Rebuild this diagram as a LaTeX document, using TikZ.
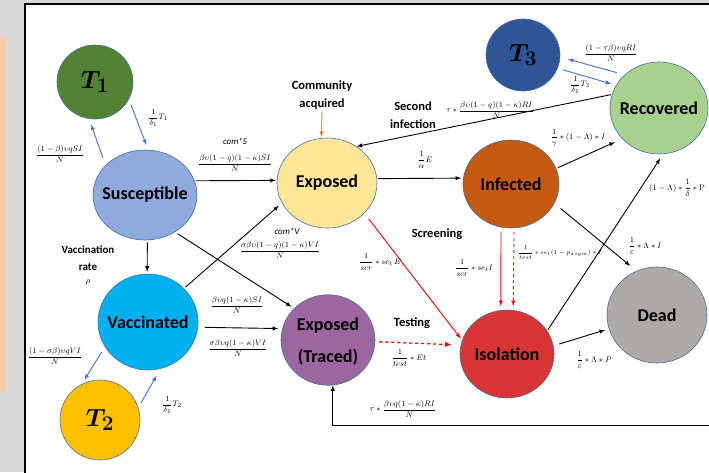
\documentclass[tikz,border=0pt]{standalone}
\usepackage{amsmath}
\usepackage[no-math]{fontspec}
\setmainfont{Carlito}
\usetikzlibrary{arrows,shapes.geometric}

\definecolor{bggray}{RGB}{217,217,217}
\definecolor{peach}{RGB}{248,203,173}
\definecolor{compline}{RGB}{65,113,156}
\definecolor{arrowblue}{RGB}{68,114,196}
\definecolor{orangeline}{RGB}{237,125,49}
\definecolor{tgreen}{RGB}{84,130,53}
\definecolor{susblue}{RGB}{143,170,220}
\definecolor{vacblue}{RGB}{0,176,240}
\definecolor{tyellow}{RGB}{255,192,0}
\definecolor{expyellow}{RGB}{255,230,153}
\definecolor{tracpurple}{RGB}{158,102,160}
\definecolor{infbrown}{RGB}{197,90,17}
\definecolor{isored}{RGB}{218,52,52}
\definecolor{tnavy}{RGB}{47,85,151}
\definecolor{recgreen}{RGB}{169,209,142}
\definecolor{deadgray}{RGB}{174,170,170}

\newcommand{\nolen}[1]{\makebox[0pt]{#1}}

\begin{document}
\begin{tikzpicture}[x=1pt,y=-1pt,
  comp/.style={ellipse,draw=compline,line width=0.6pt,inner sep=0pt,font=\bfseries\fontsize{18}{21}\selectfont},
  tnode/.style={comp,font=\fontsize{24.88}{28}\selectfont},
  lab/.style={inner sep=0pt,font=\fontsize{8}{9}\selectfont},
  note/.style={inner sep=0pt,align=center,font=\bfseries\fontsize{12.5}{18}\selectfont},
  flow/.style={-latex,line width=0.9pt},
  bflow/.style={flow,draw=arrowblue},
  rflow/.style={flow,draw=red}]
\useasboundingbox (0,0) rectangle (709,472);
\begin{scope}
\clip (0,0) rectangle (709,472);
\fill[bggray] (0,0) rectangle (709,472);
\fill[white] (25,4) rectangle (709,472);
\fill[peach] (0,37) rectangle (6,392);
\draw[line width=1.2pt] (25,480) -- (25,4) -- (720,4);
\end{scope}

\node[tnode,fill=tgreen,minimum width=76,minimum height=74] (T1) at (95,82) {\nolen{$\boldsymbol{T_1}$}};
\node[comp,fill=susblue,minimum width=104,minimum height=90] (S) at (145,195) {\nolen{Susceptible}};
\node[comp,fill=vacblue,minimum width=100,minimum height=96] (V) at (148,322) {\nolen{Vaccinated}};
\node[tnode,fill=tyellow,minimum width=80,minimum height=80] (T2) at (100,420) {\nolen{$\boldsymbol{T_2}$}};
\node[comp,fill=expyellow,minimum width=100,minimum height=90] (E) at (327,183) {\nolen{Exposed}};
\node[comp,fill=tracpurple,minimum width=94,minimum height=88,font=\bfseries\fontsize{18}{32}\selectfont] (ET) at (328,340) {\nolen{\begin{tabular}{@{}c@{}}Exposed\\(Traced)\end{tabular}}};
\node[comp,fill=infbrown,minimum width=96,minimum height=88] (I) at (511,184) {\nolen{Infected}};
\node[comp,fill=isored,minimum width=94,minimum height=88] (Iso) at (507,354) {\nolen{Isolation}};
\node[tnode,fill=tnavy,minimum width=74,minimum height=72] (T3) at (523,55) {\nolen{$\boldsymbol{T_3}$}};
\node[comp,fill=recgreen,minimum width=98,minimum height=92] (R) at (659,108) {\nolen{Recovered}};
\node[comp,fill=deadgray,minimum width=100,minimum height=96] (D) at (657,315) {\nolen{Dead}};

\node[note] (ca) at (322,95) {Community\\acquired};
\node[note] (si) at (413,115) {Second\\infection};
\node[note,font=\bfseries\fontsize{11}{17}\selectfont] (vr) at (88,258) {Vaccination\\rate};
\node[lab,font=\fontsize{9}{10}\selectfont] (rho) at (88,282) {$\rho$};
\node[note] (scr) at (437,234) {Screening};
\node[note] (tst) at (412,323) {Testing};

\draw[bflow,shorten <=6,shorten >=5] (T1.-27) -- (S.86);
\draw[bflow,shorten <=8,shorten >=6] (S.143) -- (T1.-99);
\draw[flow,shorten <=1,shorten >=1] (S.16) -- (E.177);
\draw[flow,shorten <=2,shorten >=2] (S.-87) -- (V.91);
\draw[flow,shorten <=3,shorten >=3] (S.-51) -- (ET.137);
\draw[flow,shorten <=2,shorten >=4] (V.43) -- (E.204);
\draw[flow,shorten <=7,shorten >=4] (V.-6) -- (ET.166);
\draw[bflow,shorten <=6,shorten >=5] (V.-150) -- (T2.117);
\draw[bflow,shorten <=5,shorten >=8] (T2.18) -- (V.-75);
\draw[flow,draw=orangeline,shorten <=2,shorten >=1] (ca.south) -- (E.97);
\draw[flow,shorten <=1] (R.164) -- (E.51);
\draw[flow,shorten <=1,shorten >=2] (E.5) -- (I.173);
\draw[rflow,shorten <=7,shorten >=2] (E.-39) -- (Iso.163);
\draw[rflow,shorten <=4,shorten >=4] (I.-103) -- (Iso.98);
\draw[rflow,dashed,shorten <=4,shorten >=4] (I.-86) -- (Iso.82);
\draw[flow,shorten <=2,shorten >=8] (I.19) -- (R.220);
\draw[flow,shorten <=8,shorten >=8] (I.-24) -- (D.115);
\draw[flow,shorten <=1,shorten >=5] (Iso.30) -- (R.-85);
\draw[flow,shorten <=6,shorten >=4] (Iso.10) -- (D.196);
\draw[rflow,dashed,line width=1.3pt,shorten <=4,shorten >=9] (ET.-2) -- (Iso.169);
\coordinate (rin) at (709,425);
\draw[flow] (rin) -| (ET.-84);
\draw[bflow,shorten <=8,shorten >=8] (R.136) -- (T3.-3);
\draw[bflow,shorten <=5,shorten >=5] (T3.-21) -- (R.152);

\node[lab] (l1) at (158,118) {$\dfrac{1}{\delta_1}T_1$};
\node[lab] (l2) at (60,154) {$\dfrac{(1-\beta)\upsilon qSI}{N}$};
\node[lab,font=\itshape\fontsize{9}{10}\selectfont] (l3) at (235,141) {com*S};
\node[lab] (l4) at (235,163) {$\dfrac{\beta\upsilon(1-q)(1-\kappa)SI}{N}$};
\node[lab,font=\itshape\fontsize{9}{10}\selectfont] (l5) at (287,231) {com*V};
\node[lab] (l6) at (280,250) {$\dfrac{\sigma\beta\upsilon(1-q)(1-\kappa)VI}{N}$};
\node[lab] (l7) at (237,305) {$\dfrac{\beta\upsilon q(1-\kappa)SI}{N}$};
\node[lab] (l8) at (238,348) {$\dfrac{\sigma\beta\upsilon q(1-\kappa)VI}{N}$};
\node[lab] (l9) at (55,356) {$\dfrac{(1-\sigma\beta)\upsilon qVI}{N}$};
\node[lab] (l10) at (172,405) {$\dfrac{1}{\delta_1}T_2$};
\node[lab] (l11) at (490,110) {$\tau*\dfrac{\beta\upsilon(1-q)(1-\kappa)RI}{N}$};
\node[lab] (l12) at (425,160) {$\dfrac{1}{\alpha}E$};
\node[lab] (l13) at (380,262) {$\dfrac{1}{scr}*se_t\,E$};
\node[lab] (l14) at (474,268) {$\dfrac{1}{scr}*se_tI$};
\node[lab,font=\fontsize{6}{7}\selectfont] (l15) at (560,253) {$\dfrac{1}{test}*se_t(1-p_{asym})*I$};
\node[lab] (l16) at (578,138) {$\dfrac{1}{\gamma}*(1-\Lambda)*I$};
\node[lab,anchor=west] (l17) at (649,188) {$(1-\Lambda)*\dfrac{1}{\delta}*\mathrm{P}$};
\node[lab] (l18) at (645,246) {$\dfrac{1}{\varepsilon}*\Lambda*I$};
\node[lab] (l19) at (594,360) {$\dfrac{1}{\varepsilon}*\Lambda*P$};
\node[lab] (l20) at (409,358) {$\dfrac{1}{test}*Et$};
\node[lab] (l21) at (403,409) {$\tau*\dfrac{\beta\upsilon q(1-\kappa)RI}{N}$};
\node[lab] (l22) at (611,53) {$\dfrac{(1-\tau\beta)\upsilon qRI}{N}$};
\node[lab] (l23) at (580,85) {$\dfrac{1}{\delta_1}T_3$};
\end{tikzpicture}
\end{document}
